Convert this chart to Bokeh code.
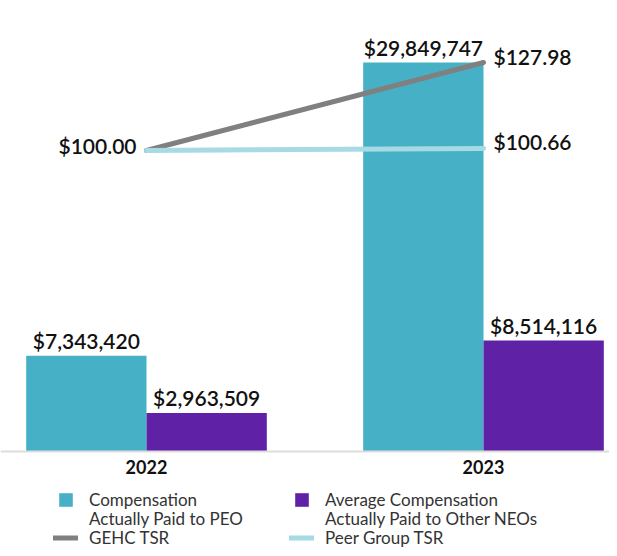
from bokeh.plotting import figure
from bokeh.models import Range1d, Span, Legend, LegendItem, ColumnDataSource
from bokeh.transform import dodge
from bokeh.core.properties import value
from bokeh.embed import file_html
from bokeh.resources import INLINE

# ---- data ----
years = ["2022", "2023"]
peo_cap = [7343420, 29849747]
neo_cap = [2963509, 8514116]
gehc_tsr = [100.00, 127.98]
peer_tsr = [100.00, 100.66]
legend_bar_line1 = ["Compensation", "Average Compensation"]
legend_bar_line2 = ["Actually Paid to PEO", "Actually Paid to Other NEOs"]
legend_lines = ["GEHC TSR", "Peer Group TSR"]

TEAL = "#46B1C6"
PURPLE = "#5F22A6"
GRAY = "#808080"
LIGHTBLUE = "#A6DAE4"
FONT = "Lato"
FONT_SB = "Lato Semibold"

xpos = list(range(len(years)))
bar_src = ColumnDataSource(dict(
    x=xpos, years=years, peo=peo_cap, neo=neo_cap,
    peo_lbl=[f"${v:,}" for v in peo_cap],
    neo_lbl=[f"${v:,}" for v in neo_cap],
))

W, H = 609, 548
unit_px = 337.0
x0_px = 146.0
base_px = 451.0
scale = max(peo_cap) / 389.0
tsr_per_px = (max(gehc_tsr) - gehc_tsr[0]) / 88.0
tsr_px = 150.0

p = figure(width=W, height=H, output_backend="svg", toolbar_location=None,
           x_range=Range1d(-x0_px / unit_px, (W - x0_px) / unit_px),
           y_range=Range1d(-(H - base_px) * scale, base_px * scale),
           x_axis_location=None, y_axis_location=None,
           min_border=0, min_border_left=0, min_border_right=0,
           min_border_top=0, min_border_bottom=0,
           outline_line_color=None)
p.grid.visible = False
p.extra_y_ranges = {"tsr": Range1d(gehc_tsr[0] - (H - tsr_px) * tsr_per_px,
                                   gehc_tsr[0] + tsr_px * tsr_per_px)}

bw = 0.357
r_peo = p.vbar(x=dodge("x", -bw / 2, range=p.x_range), top="peo", width=bw,
               source=bar_src, fill_color=TEAL, line_color=None)
r_neo = p.vbar(x=dodge("x", bw / 2, range=p.x_range), top="neo", width=bw,
               source=bar_src, fill_color=PURPLE, line_color=None)
# invisible renderer used only for the second line of the bar legend
r_blank = p.vbar(x=[], top=[], width=bw, fill_alpha=0, line_alpha=0)

p.add_layout(Span(location=0, dimension="width", line_color="#dddddd",
                  line_width=2))

lbl_style = dict(text_font=value(FONT_SB), text_font_size="21px",
                 text_color="#111111",
                 text_align="center", text_baseline="alphabetic", y_offset=-15)
p.text(x=dodge("x", -bw / 2, range=p.x_range), y="peo", text="peo_lbl",
       source=bar_src, **lbl_style)
p.text(x=dodge("x", bw / 2, range=p.x_range), y="neo", text="neo_lbl",
       source=bar_src, **lbl_style)

# year labels
p.text(x="x", y=0, text="years", source=bar_src, text_font=value(FONT),
       text_font_size="18px", text_font_style="bold", text_color="#111111",
       text_align="center", text_baseline="middle", y_offset=15)

# TSR lines
r_gehc = p.line(xpos, gehc_tsr, y_range_name="tsr", line_color=GRAY,
                line_width=5, line_cap="round")
r_peer = p.line(xpos, peer_tsr, y_range_name="tsr", line_color=LIGHTBLUE,
                line_width=5, line_cap="round")

tsr_style = dict(text_font=value(FONT_SB), text_font_size="21px",
                 text_color="#111111",
                 text_baseline="middle", y_range_name="tsr")
p.text(x=[xpos[0]], y=[gehc_tsr[0]], text=[f"${gehc_tsr[0]:.2f}"],
       text_align="right", x_offset=-10, y_offset=-5, **tsr_style)
p.text(x=[xpos[1]], y=[gehc_tsr[1]], text=[f"${gehc_tsr[1]:.2f}"],
       text_align="left", x_offset=10, y_offset=-6, **tsr_style)
p.text(x=[xpos[1]], y=[peer_tsr[1]], text=[f"${peer_tsr[1]:.2f}"],
       text_align="left", x_offset=10, y_offset=-7, **tsr_style)

leg_common = dict(orientation="horizontal", padding=0, margin=0, spacing=0,
                  border_line_color=None, background_fill_alpha=0,
                  label_text_font=FONT, label_text_font_size="17px",
                  label_text_color="#333333")
leg_row1 = Legend(items=[
    LegendItem(label=legend_bar_line1[0], renderers=[r_peo]),
    LegendItem(label=legend_bar_line1[1], renderers=[r_neo]),
], location=(57, 38), glyph_width=17, glyph_height=17, label_standoff=15,
    label_width=204, **leg_common)
leg_row2 = Legend(items=[
    LegendItem(label=legend_bar_line2[0], renderers=[r_blank]),
    LegendItem(label=legend_bar_line2[1], renderers=[r_blank]),
], location=(57, 19), glyph_width=17, glyph_height=17, label_standoff=15,
    label_width=204, **leg_common)
leg_row3 = Legend(items=[
    LegendItem(label=legend_lines[0], renderers=[r_gehc]),
    LegendItem(label=legend_lines[1], renderers=[r_peer]),
], location=(53, 0), glyph_width=25, glyph_height=17, label_standoff=11,
    label_width=200, **leg_common)
for lg in (leg_row1, leg_row2, leg_row3):
    p.add_layout(lg)

open("out.html", "w").write(file_html(p, INLINE))
